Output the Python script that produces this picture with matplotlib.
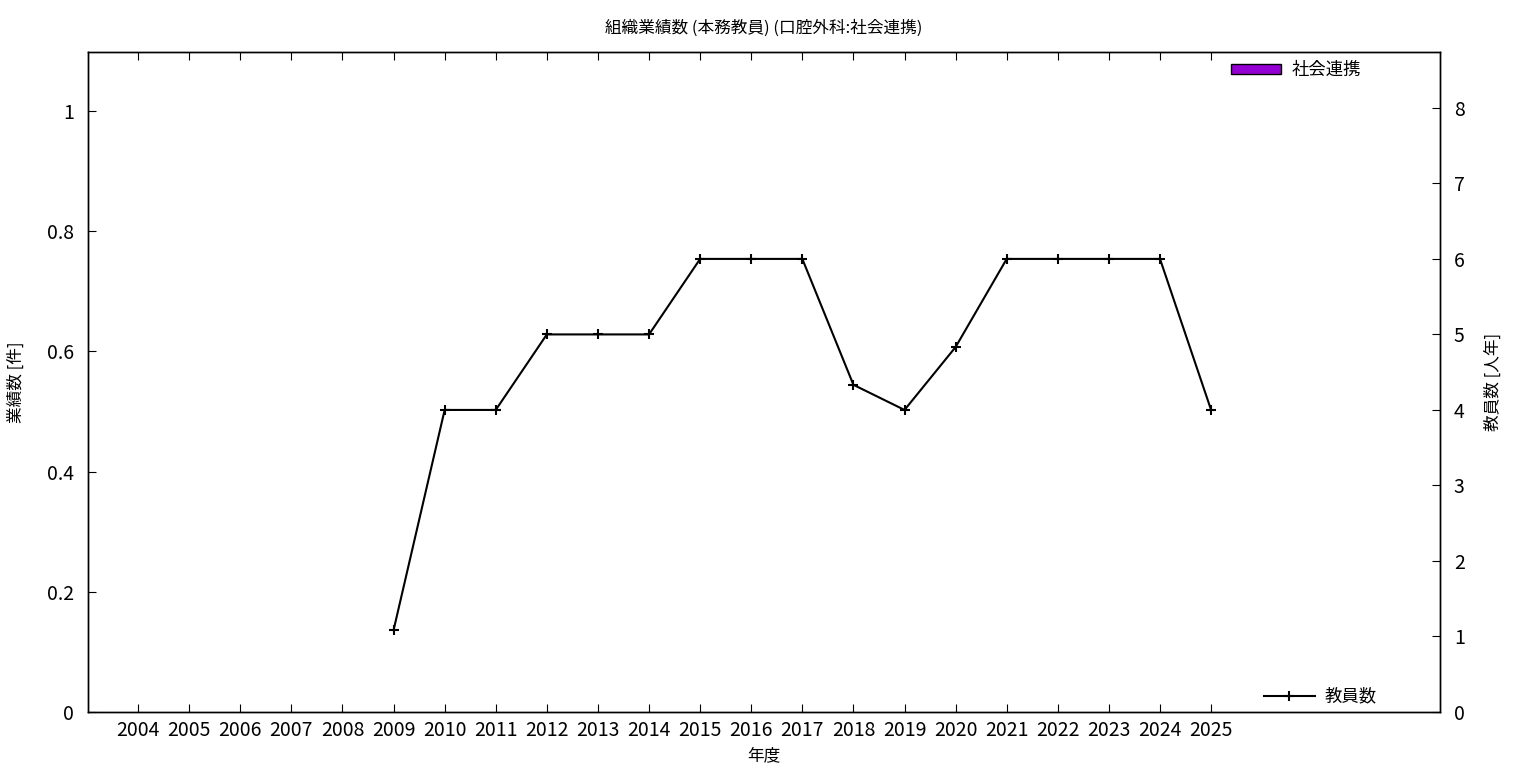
import matplotlib
matplotlib.use("Agg")
import matplotlib.pyplot as plt
from matplotlib.patches import Patch
from matplotlib.lines import Line2D

plt.rcParams['font.family'] = ['Noto Sans CJK JP', 'DejaVu Sans']

years = [str(y) for y in range(2004, 2026)]
social = [0] * 22
staff_years = ['2009', '2010', '2011', '2012', '2013', '2014', '2015', '2016', '2017',
               '2018', '2019', '2020', '2021', '2022', '2023', '2024', '2025']
staff = [1.083, 4, 4, 5, 5, 5, 6, 6, 6, 4.333, 4, 4.833, 6, 6, 6, 6, 4]

fig = plt.figure(figsize=(15.36, 7.68), dpi=100)
ax = fig.add_axes([88/1536, 56/768, (1440-88)/1536, (712-52)/768])
ax2 = ax.twinx()

x = list(range(len(years)))
bars = ax.bar(x, social, width=0.8, color='#9400D3', edgecolor='black', linewidth=1)
for b, v in zip(bars, social):
    if v == 0:
        b.set_visible(False)
sx = [years.index(y) for y in staff_years]
ax2.plot(sx, staff, color='black', linewidth=1.5, marker='+', markersize=7, markeredgewidth=1.5)

ax.set_xlim(-0.98, 25.48)
ax.set_ylim(0, 1.098)
ax2.set_ylim(0, 8.74)
ax.set_xticks(x)
ax.set_xticklabels(years)
ax.set_yticks([0, 0.2, 0.4, 0.6, 0.8, 1])
ax.set_yticklabels(['0', '0.2', '0.4', '0.6', '0.8', '1'])
ax2.set_yticks(range(0, 9))

ax.tick_params(axis='x', direction='in', top=True, length=6, labelsize=14, pad=6)
ax.tick_params(axis='y', direction='in', length=6, labelsize=14, pad=10)
ax2.tick_params(axis='y', direction='in', length=6, labelsize=14, pad=10)
for a in (ax, ax2):
    for s in a.spines.values():
        s.set_linewidth(1)

ax.set_title('組織業績数 (本務教員) (口腔外科:社会連携)', fontsize=12, pad=14)
ax.set_xlabel('年度', fontsize=12, labelpad=4)
ax.set_ylabel('業績数 [件]', fontsize=12, labelpad=16)
ax2.set_ylabel('教員数 [人年]', fontsize=12, labelpad=14)

leg1 = ax.legend(handles=[Patch(facecolor='#9400D3', edgecolor='black', label='社会連携')],
                 loc='upper right', bbox_to_anchor=(0.953, 1.01), frameon=False, fontsize=12.5,
                 handlelength=2.9, handleheight=0.5, handletextpad=0.6)
leg2 = ax2.legend(handles=[Line2D([], [], color='black', marker='+', markersize=7, markeredgewidth=1.5,
                                  linewidth=1.5, label='教員数')],
                  loc='lower right', bbox_to_anchor=(0.965, -0.014), frameon=False, fontsize=12.5,
                  handlelength=2.9, handletextpad=0.6)

fig.savefig('out.png', dpi=100)
